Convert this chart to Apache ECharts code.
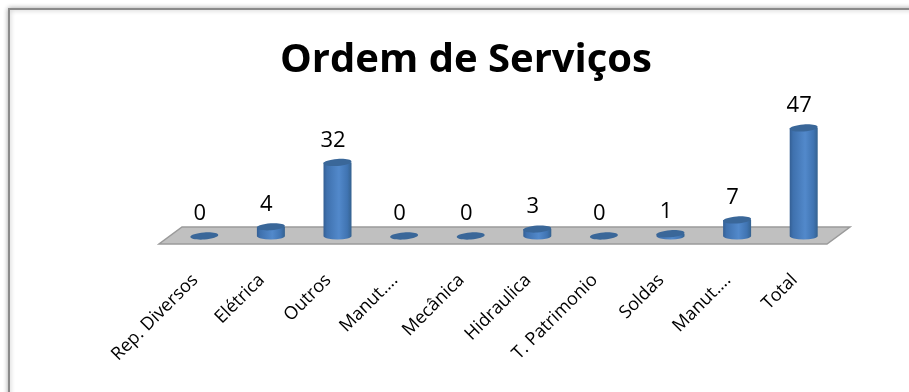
<!DOCTYPE html>
<html><head><meta charset="utf-8">
<style>html,body{margin:0;padding:0;background:#fff}#c{width:909px;height:392px}</style>
<script src="https://cdn.jsdelivr.net/npm/echarts@6/dist/echarts.min.js"></script>
</head><body><div id="c"></div>
<script>
const titleText = 'Ordem de Serviços';
const categories = ['Rep. Diversos','Elétrica','Outros','Manut....','Mecânica','Hidraulica','T. Patrimonio','Soldas','Manut....','Total'];
const values = [0,4,32,0,0,3,0,1,7,47];

const chart = echarts.init(document.getElementById('c'), null, {renderer:'canvas'});
const bodyGrad = new echarts.graphic.LinearGradient(0,0,1,0,[
  {offset:0,color:'#345f94'},{offset:0.12,color:'#3f71ae'},{offset:0.55,color:'#5289cb'},
  {offset:0.85,color:'#4074b2'},{offset:1,color:'#35628f'}]);
function renderCyl(params, api){
  const i = api.value(0), v = api.value(1);
  const base = api.coord([i,0]), top = api.coord([i,v]);
  const rx = 14, ry = 3.5;
  const cx = base[0], by = base[1], ty = top[1];
  const kids = [];
  if (v > 0) {
    kids.push({type:'path',
      shape:{pathData:`M${cx-rx} ${ty} L${cx-rx} ${by} A${rx} ${ry} 0 0 0 ${cx+rx} ${by} L${cx+rx} ${ty} Z`},
      style:{fill:bodyGrad}});
  }
  kids.push({type:'ellipse',shape:{cx:cx,cy:ty,rx:rx,ry:ry},rotation:0.07,originX:cx,originY:ty,style:{fill:'#3a6799'}});
  kids.push({type:'text',style:{text:String(v),x:cx-4.5,y:ty-22,align:'center',verticalAlign:'middle',
    fontFamily:'Open Sans',fontSize:22,fill:'#000'}});
  return {type:'group',children:kids};
}
function renderFloor(params, api){
  const g = params.coordSys, p0 = api.coord([0,0]);
  const ybase = p0[1], l = g.x, r = g.x + g.width;
  return {type:'polygon',silent:true,
    shape:{points:[[l+11,ybase-9],[r+13,ybase-9],[r-10,ybase+8],[l-12,ybase+8]]},
    style:{fill:'#c0c0c0',stroke:'#9a9a9a',lineWidth:1.5}};
}
chart.setOption({
  animation:false,
  backgroundColor:'#fff',
  title:{text:titleText,left:461,top:36,textAlign:'center',
    textStyle:{fontFamily:'Open Sans',fontWeight:'bold',fontSize:40,color:'#000'}},
  grid:{left:171,right:72,top:121,bottom:156,containLabel:false},
  xAxis:{type:'category',data:categories,
    axisLine:{show:false},axisTick:{show:false},splitLine:{show:false},
    axisLabel:{interval:0,rotate:45,margin:32,padding:[0,13,0,0],fontFamily:'Open Sans',fontSize:18,color:'#000'}},
  yAxis:{type:'value',min:0,max:50,show:false},
  graphic:[{type:'rect',silent:true,z:-1,
    shape:{x:9,y:9,width:930,height:420},
    style:{fill:'#fff',stroke:'#8a8a8a',lineWidth:2,shadowBlur:5,shadowColor:'rgba(0,0,0,0.3)'}}],
  series:[
    {type:'custom',renderItem:renderFloor,data:[[0]],encode:{x:0,y:-1},silent:true,z:1,clip:false},
    {type:'custom',renderItem:renderCyl,data:values.map((v,i)=>[i,v]),encode:{x:0,y:1},z:2,clip:false}
  ]
});
</script></body></html>
